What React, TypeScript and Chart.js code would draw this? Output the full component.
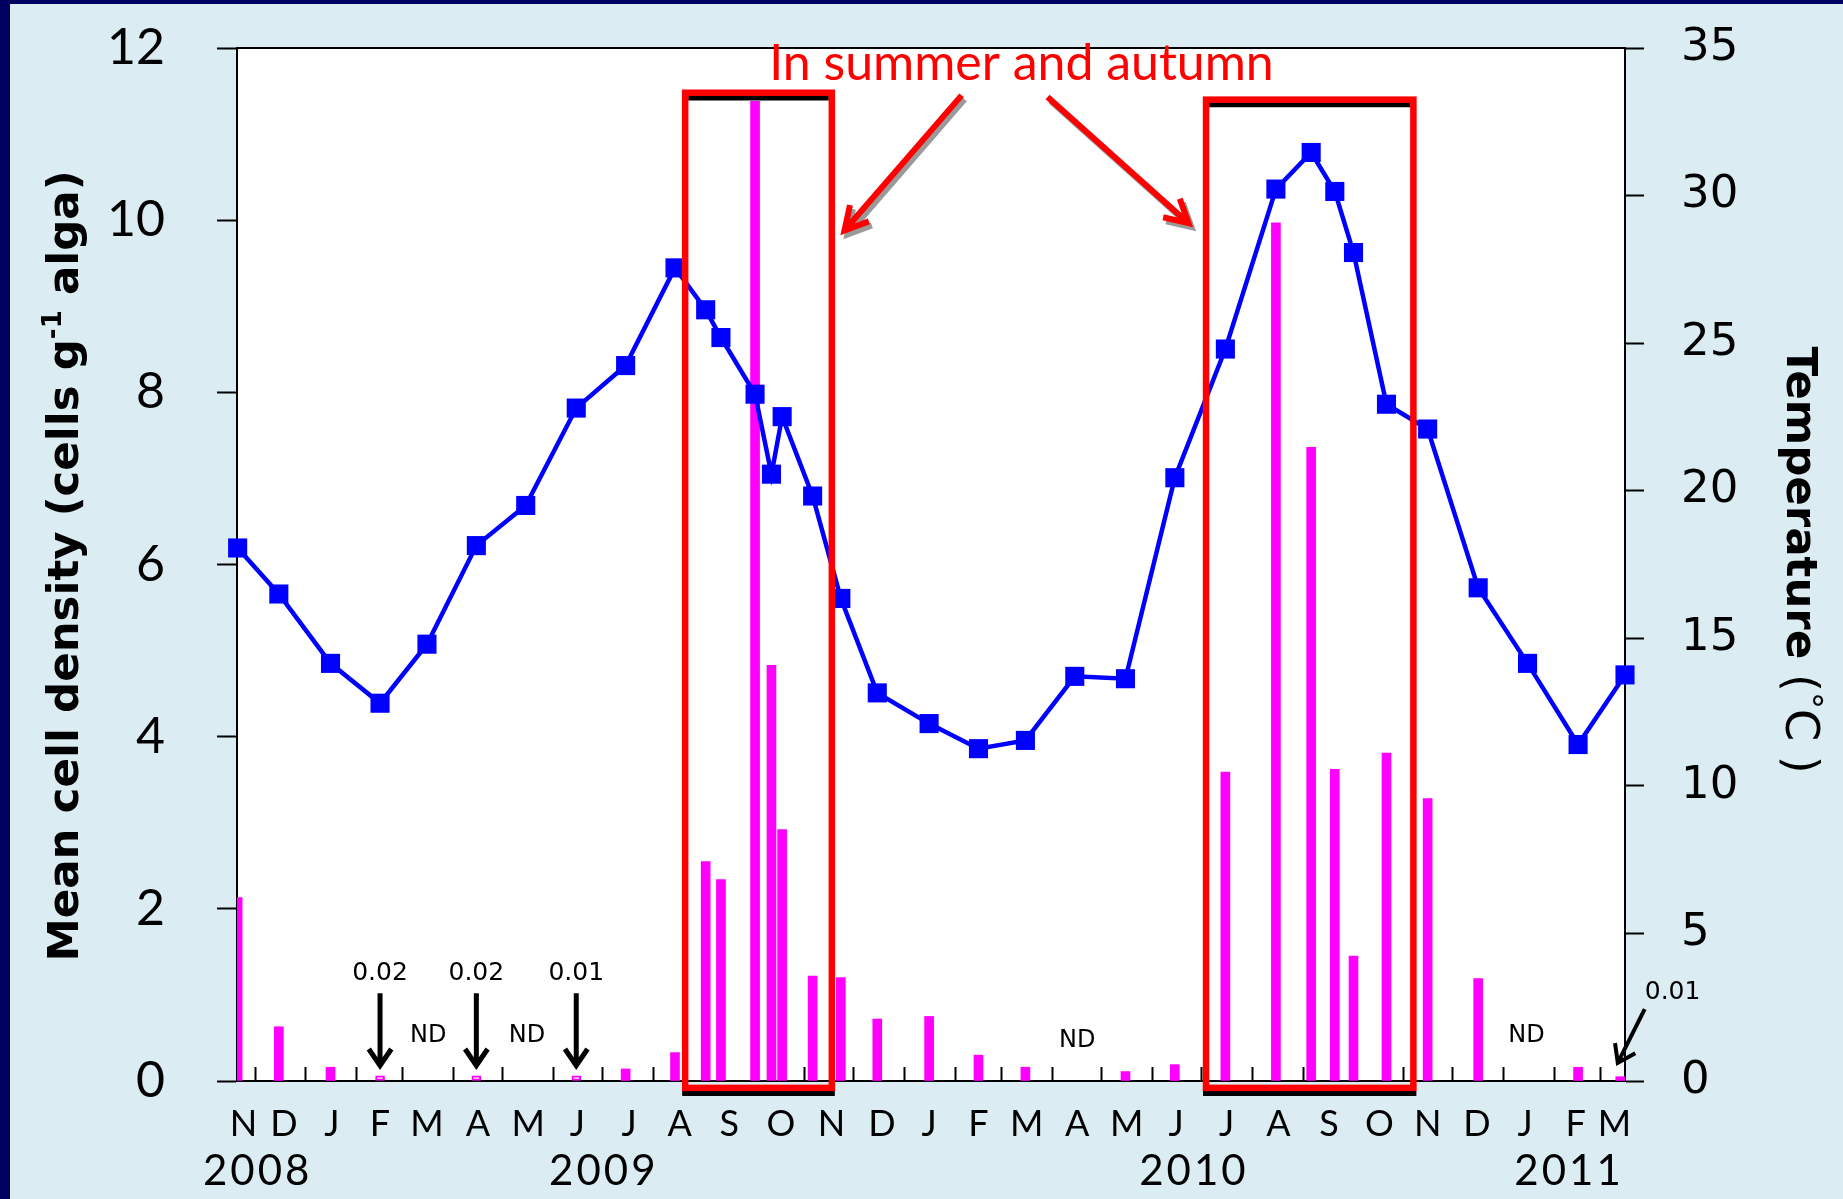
import React, { useEffect, useRef } from "react";
import { Chart, registerables } from "chart.js";

Chart.register(...registerables);

// x values are days counted from 1 Dec 2008
const X_MIN = -10.7;
const X_MAX = 835.4;

// Water temperature (right axis, °C)
const sampleDays = [-10.3, 14.8, 46.3, 76.5, 105.1, 135.2, 165.3, 196.1, 226.2, 256.3, 275.0, 284.3, 305.1, 315.1, 321.6, 340.2, 357.4, 379.6, 411.2, 441.3, 469.9, 500.0, 530.9, 561.0, 591.8, 622.6, 644.1, 658.5, 669.9, 690.0, 715.1, 745.9, 776.0, 806.8, 835.4];
const temperature = [18.06, 16.5, 14.15, 12.8, 14.8, 18.14, 19.5, 22.8, 24.24, 27.55, 26.13, 25.19, 23.27, 20.56, 22.51, 19.82, 16.35, 13.15, 12.11, 11.26, 11.54, 13.71, 13.63, 20.44, 24.8, 30.22, 31.46, 30.14, 28.07, 22.93, 22.09, 16.71, 14.15, 11.4, 13.76];

// Mean cell density (left axis, cells g-1 alga)
const barDays = [-10.3, 14.8, 46.3, 76.5, 135.2, 196.1, 226.2, 256.3, 275.0, 284.3, 305.1, 315.1, 321.6, 340.2, 357.4, 379.6, 411.2, 441.3, 469.9, 530.9, 561.0, 591.8, 622.6, 644.1, 658.5, 669.9, 690.0, 715.1, 745.9, 806.8, 832.5];
const cellDensity = [2.13, 0.63, 0.16, 0.06, 0.06, 0.06, 0.14, 0.33, 2.55, 2.34, 11.38, 4.83, 2.92, 1.22, 1.2, 0.72, 0.75, 0.3, 0.16, 0.11, 0.19, 3.59, 9.97, 7.36, 3.62, 1.45, 3.81, 3.28, 1.19, 0.16, 0.05];
const outlinedBarIndex = [3, 4, 5];

// x axis
const monthStartDays = [0, 31, 62, 90, 121, 151, 182, 212, 243, 274, 304, 335, 365, 396, 427, 455, 486, 516, 547, 577, 608, 639, 669, 700, 730, 761, 792, 820];
const monthLabels = ["N", "D", "J", "F", "M", "A", "M", "J", "J", "A", "S", "O", "N", "D", "J", "F", "M", "A", "M", "J", "J", "A", "S", "O", "N", "D", "J", "F", "M"];
const monthLabelDays = [-6.7, 17.9, 47.1, 76.4, 105.1, 136.1, 166.8, 196.8, 228.3, 259.2, 289.3, 320.9, 351.7, 382.5, 411.2, 441.3, 470.7, 501.5, 531.6, 561.7, 592.5, 624.1, 654.9, 685.7, 715.1, 745.1, 774.5, 805.3, 829];
const yearLabels = ["2008", "2009", "2010", "2011"];
const yearLabelDays = [1.0, 212, 571.7, 800.4];

// small notes
const noteTexts = ["0.02", "0.02", "0.01"];
const noteDays = [76.5, 135.2, 196.1];
const ndDays = [105.9, 166.1, 501.5, 775.3];
const ndValues = [0.53, 0.53, 0.47, 0.53];

const TITLE = "In summer and autumn";

const annotationPlugin = {
  id: "annot",
  beforeDraw(chart: any) {
    const { ctx, width, height, chartArea: ca } = chart;
    ctx.save();
    ctx.fillStyle = "#DBEDF3";
    ctx.fillRect(0, 0, width, height);
    ctx.fillStyle = "#000060";
    ctx.fillRect(0, 0, width, 4);
    ctx.fillRect(0, 0, 10, height);
    ctx.fillStyle = "#FFFFFF";
    ctx.fillRect(ca.left, ca.top, ca.right - ca.left, ca.bottom - ca.top);
    ctx.restore();
  },
  beforeDatasetsDraw(chart: any) {
    const { ctx, chartArea: ca, scales } = chart;
    const xs = scales.x;
    ctx.save();
    ctx.strokeStyle = "#000";
    ctx.lineWidth = 2;
    ctx.beginPath();
    ctx.moveTo(ca.left, ca.top);
    ctx.lineTo(ca.right, ca.top);
    ctx.moveTo(ca.left, ca.bottom);
    ctx.lineTo(ca.right, ca.bottom);
    for (const d of monthStartDays) {
      const x = Math.round(xs.getPixelForValue(d)) + 0.5;
      ctx.moveTo(x, ca.bottom);
      ctx.lineTo(x, ca.bottom - 14);
    }
    ctx.stroke();
    ctx.restore();
  },
  afterDatasetsDraw(chart: any) {
    const { ctx, scales } = chart;
    const X = (d: number) => scales.x.getPixelForValue(d);
    const Y = (v: number) => scales.y.getPixelForValue(v);

    const arrow = (x0: number, y0: number, x1: number, y1: number, head: number, ang: number) => {
      const a = Math.atan2(y1 - y0, x1 - x0);
      ctx.beginPath();
      ctx.moveTo(x0, y0);
      ctx.lineTo(x1, y1);
      ctx.moveTo(x1 - head * Math.cos(a - ang), y1 - head * Math.sin(a - ang));
      ctx.lineTo(x1, y1);
      ctx.lineTo(x1 - head * Math.cos(a + ang), y1 - head * Math.sin(a + ang));
      ctx.stroke();
    };

    ctx.save();
    // highlighted periods
    const boxes = [
      { x0: 262.5, x1: 351.9, top: 11.48, blackTop: 11.42 },
      { x0: 580.0, x1: 706.4, top: 11.4, blackTop: 11.34 },
    ];
    for (const b of boxes) {
      const l = X(b.x0), r = X(b.x1), t = Y(b.top), bt = Y(-0.08);
      ctx.strokeStyle = "#000";
      ctx.lineWidth = 5;
      ctx.beginPath();
      ctx.moveTo(l + 3, Y(b.blackTop));
      ctx.lineTo(r - 3, Y(b.blackTop));
      ctx.moveTo(l - 3, Y(-0.145));
      ctx.lineTo(r + 3, Y(-0.145));
      ctx.stroke();
      ctx.strokeStyle = "#FF0000";
      ctx.lineWidth = 6.5;
      ctx.strokeRect(l, t, r - l, bt - t);
    }

    // red arrows with shadow
    ctx.lineCap = "butt";
    ctx.lineJoin = "miter";
    const redArrows = [
      [431, 11.45, 359.6, 9.88],
      [483.4, 11.43, 569.3, 9.965],
    ];
    for (const [d0, v0, d1, v1] of redArrows) {
      ctx.lineWidth = 6;
      ctx.strokeStyle = "#9A9A9A";
      arrow(X(d0) + 3, Y(v0) + 4, X(d1) + 3, Y(v1) + 4, 26, 0.5);
      ctx.strokeStyle = "#FF0000";
      arrow(X(d0), Y(v0), X(d1), Y(v1), 26, 0.5);
    }

    // title
    ctx.fillStyle = "#FF0000";
    ctx.font = "50px Lato";
    ctx.textAlign = "center";
    ctx.textBaseline = "alphabetic";
    ctx.fillText(TITLE, X(467.5), Y(11.63));

    // small black arrows and values
    ctx.strokeStyle = "#000";
    ctx.fillStyle = "#000";
    ctx.lineWidth = 5;
    ctx.font = "25px 'DejaVu Sans'";
    ctx.textBaseline = "middle";
    noteDays.forEach((d, i) => {
      arrow(X(d), Y(1.02), X(d), Y(0.18), 20, 0.6);
      ctx.fillText(noteTexts[i], X(d), Y(1.25));
    });
    ctx.lineWidth = 4;
    arrow(X(847.4), Y(0.836), X(831), Y(0.21), 20, 0.6);
    ctx.fillText("0.01", X(864.4), Y(1.03));

    ctx.font = "24px 'DejaVu Sans'";
    ndDays.forEach((d, i) => ctx.fillText("ND", X(d), Y(ndValues[i])));
    ctx.restore();
  },
  afterDraw(chart: any) {
    const { ctx, scales } = chart;
    const X = (d: number) => scales.x.getPixelForValue(d);
    ctx.save();
    ctx.fillStyle = "#000";
    ctx.textAlign = "center";
    ctx.textBaseline = "alphabetic";
    ctx.font = "36px Lato";
    monthLabels.forEach((m, i) => ctx.fillText(m, X(monthLabelDays[i]), 1136));
    ctx.font = "42px Lato";
    (ctx as any).letterSpacing = "3px";
    yearLabels.forEach((y, i) => ctx.fillText(y, X(yearLabelDays[i]) + 1.5, 1185));
    (ctx as any).letterSpacing = "0px";

    const drawParts = (parts: { t: string; f: string; dy: number }[]) => {
      let w = 0;
      for (const p of parts) { ctx.font = p.f; w += ctx.measureText(p.t).width; }
      let x = -w / 2;
      for (const p of parts) {
        ctx.font = p.f;
        ctx.fillText(p.t, x, p.dy);
        x += ctx.measureText(p.t).width;
      }
    };
    ctx.textAlign = "left";
    ctx.textBaseline = "middle";
    // left axis title
    ctx.save();
    ctx.translate(67, 566);
    ctx.rotate(-Math.PI / 2);
    drawParts([
      { t: "Mean cell density (cells g", f: "bold 43.5px 'DejaVu Sans'", dy: 0 },
      { t: "-1", f: "bold 26px 'DejaVu Sans'", dy: -13 },
      { t: " alga)", f: "bold 43.5px 'DejaVu Sans'", dy: 0 },
    ]);
    ctx.restore();

    // right axis title
    ctx.save();
    ctx.translate(1798, 560);
    ctx.rotate(Math.PI / 2);
    drawParts([
      { t: "Temperature", f: "bold 43.5px 'DejaVu Sans'", dy: 0 },
      { t: " (", f: "46px 'DejaVu Sans'", dy: 0 },
      { t: "°", f: "34px 'DejaVu Sans'", dy: -9 },
      { t: "C", f: "46px 'DejaVu Sans'", dy: 0 },
      { t: " )", f: "46px 'DejaVu Sans'", dy: 0 },
    ]);
    ctx.restore();
    ctx.restore();
  },
};

export default function App() {
  const ref = useRef<HTMLCanvasElement>(null);
  useEffect(() => {
    document.body.style.margin = "0";
    const canvas = ref.current!;
    const noPad = (w: number) => (s: any) => {
      s.width = w;
      s.paddingTop = 0;
      s.paddingBottom = 0;
    };
    const chart = new Chart(canvas, {
      type: "bar",
      data: {
        datasets: [
          {
            type: "line",
            label: "Temperature",
            data: sampleDays.map((d, i) => ({ x: d, y: temperature[i] })),
            yAxisID: "yT",
            xAxisID: "x",
            borderColor: "#0000FF",
            backgroundColor: "#0000FF",
            borderWidth: 4.5,
            pointStyle: "rect",
            pointRadius: 13.5,
            pointBorderWidth: 0,
            tension: 0,
            order: 1,
            clip: false,
          } as any,
          {
            type: "bar",
            label: "Mean cell density",
            data: barDays.map((d, i) => ({ x: d, y: cellDensity[i] })),
            yAxisID: "y",
            xAxisID: "x",
            backgroundColor: barDays.map((_, i) => (outlinedBarIndex.includes(i) ? "#FFFFFF" : "#FF00FF")),
            borderColor: "#FF00FF",
            borderWidth: barDays.map((_, i) => (outlinedBarIndex.includes(i) ? 2 : 0)),
            borderSkipped: false,
            barThickness: 9,
            grouped: false,
            order: 2,
            clip: 0,
          } as any,
        ],
      },
      options: {
        responsive: false,
        animation: false,
        layout: { padding: { top: 48, bottom: 118, left: 0, right: 0 } },
        plugins: { legend: { display: false }, tooltip: { enabled: false } },
        scales: {
          x: { type: "linear", display: false, min: X_MIN, max: X_MAX, offset: false },
          y: {
            type: "linear",
            position: "left",
            min: 0,
            max: 12,
            afterFit: noPad(237),
            ticks: { stepSize: 2, font: { family: "Lato", size: 50 }, color: "#000", padding: 52 },
            grid: { drawOnChartArea: false, drawTicks: true, tickLength: 20, tickWidth: 2, tickColor: "#000" },
            border: { display: true, color: "#000", width: 2 },
          },
          yT: {
            type: "linear",
            position: "right",
            min: 0,
            max: 35,
            afterFit: noPad(218),
            ticks: { stepSize: 5, font: { family: "DejaVu Sans", size: 45 }, color: "#000", padding: 37 },
            grid: { drawOnChartArea: false, drawTicks: true, tickLength: 19, tickWidth: 2, tickColor: "#000" },
            border: { display: true, color: "#000", width: 2 },
          },
        } as any,
      },
      plugins: [annotationPlugin],
    } as any);
    const fonts = ["50px Lato", "bold 43px 'DejaVu Sans'", "43px 'DejaVu Sans'"];
    Promise.all(fonts.map((f) => (document as any).fonts.load(f))).then(() => chart.update()).catch(() => {});
    return () => chart.destroy();
  }, []);
  return (
    <div style={{ position: "absolute", left: 0, top: 0, width: 1843, height: 1199 }}>
      <canvas ref={ref} width={1843} height={1199} style={{ width: 1843, height: 1199, display: "block" }} />
    </div>
  );
}
